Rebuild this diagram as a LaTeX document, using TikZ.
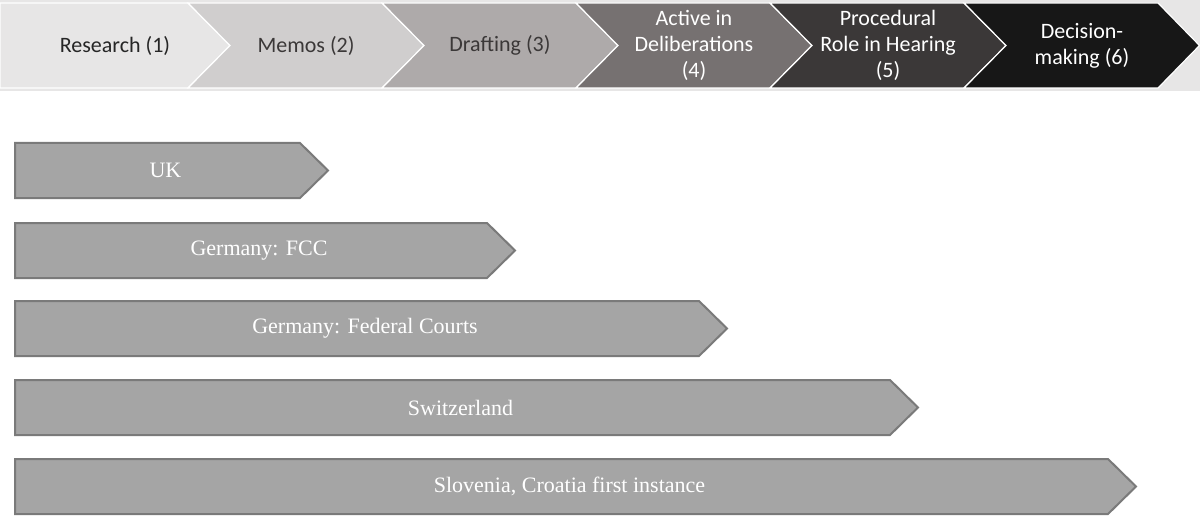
\documentclass[tikz,border=0pt]{standalone}
\usepackage{fontspec}
\setmainfont{Liberation Serif}
\newfontfamily\calfont{Carlito}

\definecolor{stageone}{HTML}{E7E6E6}
\definecolor{stagetwo}{HTML}{D0CECE}
\definecolor{stagethree}{HTML}{AEAAAA}
\definecolor{stagefour}{HTML}{767171}
\definecolor{stagefive}{HTML}{3B3838}
\definecolor{stagesix}{HTML}{171717}
\definecolor{darktext}{HTML}{262626}
\definecolor{greytext}{HTML}{3B3838}
\definecolor{barfill}{HTML}{A5A5A5}
\definecolor{baredge}{HTML}{7A7A7A}

\tikzset{
  stage/.style={draw=white, line width=1.2pt, line join=miter},
  stagetext/.style={font=\calfont\fontsize{22}{26}\selectfont, align=center, inner sep=0.75pt},
  bar/.style={fill=barfill, draw=baredge, line width=2pt, line join=miter},
  bartext/.style={font=\fontsize{22}{26}\selectfont, text=white, inner sep=0.75pt},
}

\begin{document}
\begin{tikzpicture}[x=1pt,y=1pt,yscale=-1,xscale=1]
\path[use as bounding box] (0,0) rectangle (1200,516);

%Band behind the stages
\fill [stageone] (0,0) rectangle (1200,91) ;

%Shape: Chevron [stage 1]
\draw [stage, fill=stageone] (0,3) -- (188,3) -- (230,45.5) -- (188,88) -- (0,88) -- cycle ;
%Shape: Chevron [stage 2]
\draw [stage, fill=stagetwo] (188,3) -- (382,3) -- (424,45.5) -- (382,88) -- (188,88) -- (230,45.5) -- cycle ;
%Shape: Chevron [stage 3]
\draw [stage, fill=stagethree] (382,3) -- (576,3) -- (618,45.5) -- (576,88) -- (382,88) -- (424,45.5) -- cycle ;
%Shape: Chevron [stage 4]
\draw [stage, fill=stagefour] (576,3) -- (770,3) -- (812,45.5) -- (770,88) -- (576,88) -- (618,45.5) -- cycle ;
%Shape: Chevron [stage 5]
\draw [stage, fill=stagefive] (770,3) -- (964,3) -- (1006,45.5) -- (964,88) -- (770,88) -- (812,45.5) -- cycle ;
%Shape: Chevron [stage 6]
\draw [stage, fill=stagesix] (964,3) -- (1158,3) -- (1199.5,45.5) -- (1158,88) -- (964,88) -- (1006,45.5) -- cycle ;

% Text Node
\node [stagetext, text=darktext] (research) at (115,45.5) {Research (1)};
% Text Node
\node [stagetext, text=greytext] (memos) at (306,45.5) {Memos (2)};
% Text Node
\node [stagetext, text=greytext] (drafting) at (500,45.5) {Drafting (3)};
% Text Node
\node [stagetext, text=white] (active) at (694,45.5) {Active in\\Deliberations\\(4)};
% Text Node
\node [stagetext, text=white] (hearing) at (888,45.5) {Procedural\\Role in Hearing\\(5)};
% Text Node
\node [stagetext, text=white] (decision) at (1082,45.5) {Decision-\\making (6)};

%Shape: Arrow [UK]
\draw [bar] (15,143) -- (300,143) -- (328,170.5) -- (300,198) -- (15,198) -- cycle ;
%Shape: Arrow [FCC]
\draw [bar] (15,223) -- (487,223) -- (515,250.5) -- (487,278) -- (15,278) -- cycle ;
%Shape: Arrow [Federal Courts]
\draw [bar] (15,301) -- (699,301) -- (727,328.5) -- (699,356) -- (15,356) -- cycle ;
%Shape: Arrow [Switzerland]
\draw [bar] (15,380) -- (890,380) -- (918,407.5) -- (890,435) -- (15,435) -- cycle ;
%Shape: Arrow [Slovenia]
\draw [bar] (15,459) -- (1108,459) -- (1136,486.5) -- (1108,514) -- (15,514) -- cycle ;

% Text Node
\node [bartext] (uk) at (165.5,170.5) {UK};
% Text Node
\node [bartext] (fcc) at (259,250.5) {Germany: FCC};
% Text Node
\node [bartext] (federal) at (365,328.5) {Germany: Federal Courts};
% Text Node
\node [bartext] (swiss) at (460.5,407.5) {Switzerland};
% Text Node
\node [bartext] (slovenia) at (569.5,486.5) {Slovenia, Croatia first instance};
\end{tikzpicture}
\end{document}
